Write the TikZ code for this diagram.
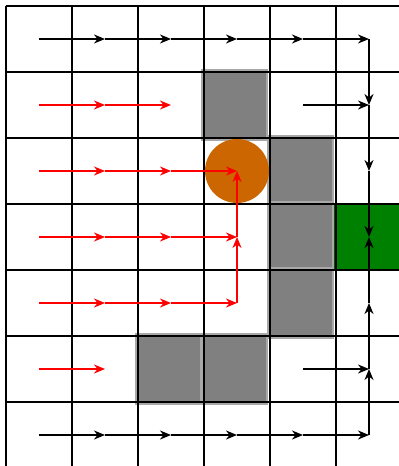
\documentclass[tikz,border=0pt]{standalone}
\usetikzlibrary{arrows.meta}
\definecolor{obst}{HTML}{808080}
\definecolor{obstedge}{HTML}{A8A8A8}
\definecolor{goalc}{HTML}{008000}
\definecolor{goaledge}{HTML}{005A00}
\definecolor{agentc}{HTML}{CC6600}
\begin{document}
\begin{tikzpicture}[x=1pt,y=-1pt,
  gridline/.style={black,line width=2.2pt},
  obstacle/.style={fill=obst,draw=obstedge,line width=2.5pt},
  goalbox/.style={fill=goalc,draw=goaledge,line width=2pt},
  agent/.style={fill=agentc,draw=none},
  pol/.style={black,line width=2.3pt,-{Stealth[length=11pt,width=9pt,inset=3.5pt]}},
  path/.style={red,line width=2.3pt,-{Stealth[length=11pt,width=9pt,inset=3.5pt]}}]
\useasboundingbox (0,0) rectangle (399,466);
\fill[white] (0,0) rectangle (399,466);
% cell centres
\foreach \i in {0,...,5}{\foreach \j in {0,...,6}{
  \coordinate (c-\i-\j) at ({39+66*\i},{39+66*\j});}}
% obstacles
\foreach \i/\j in {3/1,4/2,4/3,4/4,2/5,3/5}{
  \path[obstacle] ({6+66*\i-1.5},{6+66*\j-1.5}) rectangle ({6+66*(\i+1)-3},{6+66*(\j+1)+2});}
% goal
\path[goalbox] (335,204) rectangle (403,270);
% grid
\foreach \k in {0,...,6}{\draw[gridline] ({6+66*\k},6) -- ({6+66*\k},470);}
\foreach \k in {0,...,7}{\draw[gridline] (6,{6+66*\k}) -- (404,{6+66*\k});}
% agent
\node[agent,circle,minimum size=64pt,inner sep=0pt] (agent) at (c-3-2) {};
% black policy arrows
\draw[pol] (c-0-0) -- (c-1-0);
\draw[pol] (c-1-0) -- (c-2-0);
\draw[pol] (c-2-0) -- (c-3-0);
\draw[pol] (c-3-0) -- (c-4-0);
\draw[pol] (c-4-0) -- (c-5-0);
\draw[pol] (c-5-0) -- (c-5-1);
\draw[pol] (c-4-1) -- (c-5-1);
\draw[pol] (c-5-1) -- (c-5-2);
\draw[pol] (c-5-2) -- (c-5-3);
\draw[pol] (c-5-4) -- (c-5-3);
\draw[pol] (c-5-5) -- (c-5-4);
\draw[pol] (c-4-5) -- (c-5-5);
\draw[pol] (c-5-6) -- (c-5-5);
\draw[pol] (c-0-6) -- (c-1-6);
\draw[pol] (c-1-6) -- (c-2-6);
\draw[pol] (c-2-6) -- (c-3-6);
\draw[pol] (c-3-6) -- (c-4-6);
\draw[pol] (c-4-6) -- (c-5-6);
% red arrows
\draw[path] (c-0-1) -- (c-1-1);
\draw[path] (c-1-1) -- (c-2-1);
\draw[path] (c-0-2) -- (c-1-2);
\draw[path] (c-1-2) -- (c-2-2);
\draw[path] (c-2-2) -- (c-3-2);
\draw[path] (c-0-3) -- (c-1-3);
\draw[path] (c-1-3) -- (c-2-3);
\draw[path] (c-2-3) -- (c-3-3);
\draw[path] (c-3-3) -- (c-3-2);
\draw[path] (c-0-4) -- (c-1-4);
\draw[path] (c-1-4) -- (c-2-4);
\draw[path] (c-2-4) -- (c-3-4);
\draw[path] (c-3-4) -- (c-3-3);
\draw[path] (c-0-5) -- (c-1-5);
\end{tikzpicture}
\end{document}
